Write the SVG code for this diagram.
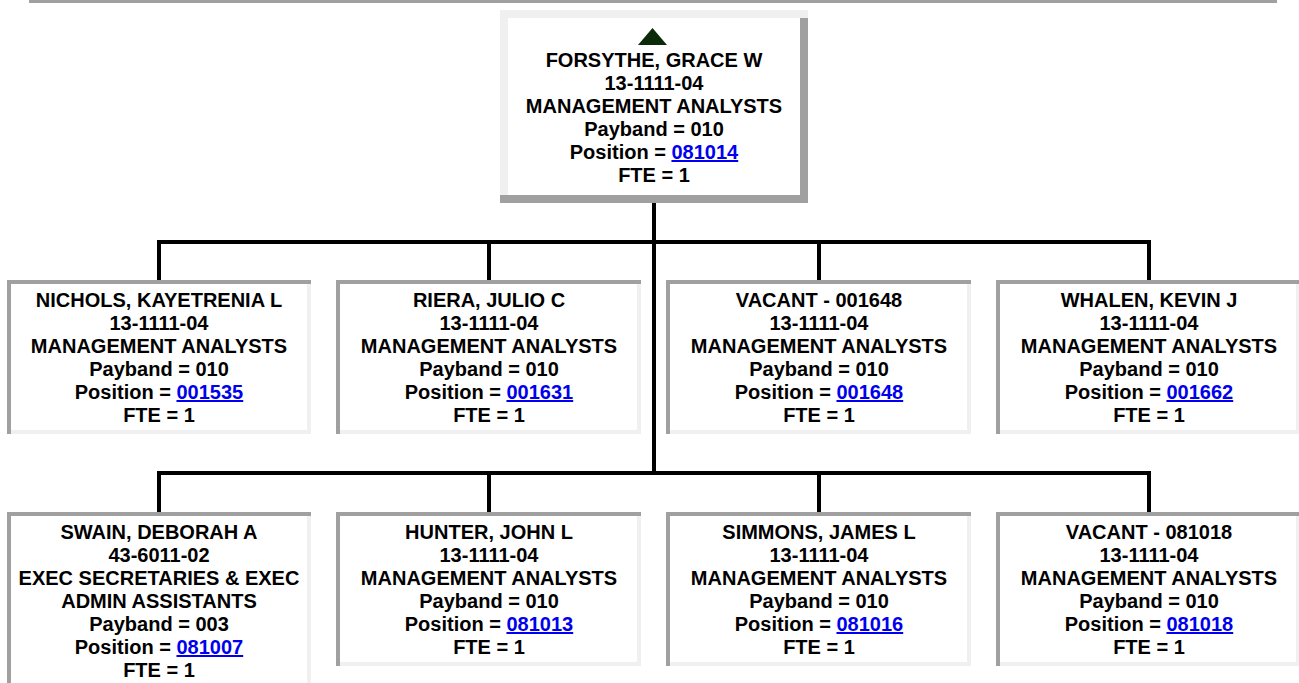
<svg xmlns="http://www.w3.org/2000/svg" width="1299" height="683" viewBox="0 0 1299 683">
<style>
.bg{fill:#ffffff}
.dk{fill:#a0a0a0}
.lt{fill:#f0f0f0}
.t{font-family:"Liberation Sans",Arial,Helvetica,sans-serif;font-weight:bold;font-size:20px;fill:#000;text-anchor:middle}
.lk{fill:#0000ee;text-decoration:underline}
.cn{stroke:#000;stroke-width:4;fill:none}
</style>
<rect x="0" y="0" width="1299" height="683" fill="#ffffff"/>
<rect x="29" y="0" width="1248" height="3" fill="#a0a0a0"/>
<g id="connectors">
<path class="cn" d="M654 203V473M157 242H1151M159 242V280M489 242V280M819 242V280M1149 242V280M157 473H1151M159 473V512M489 473V512M819 473V512M1149 473V512"/>
</g>
<g id="node-forsythe">
<rect class="bg" x="500" y="10" width="308" height="193"/>
<rect class="lt" x="500" y="10" width="308" height="8"/>
<rect class="lt" x="500" y="10" width="8" height="185"/>
<rect class="dk" x="800" y="18" width="8" height="185"/>
<rect class="dk" x="500" y="195" width="308" height="8"/>
<polygon points="638,45 667,45 652.5,28" fill="#0a2a0a"/>
<text class="t" x="654" y="67">FORSYTHE, GRACE W</text>
<text class="t" x="654" y="90">13-1111-04</text>
<text class="t" x="654" y="113">MANAGEMENT ANALYSTS</text>
<text class="t" x="654" y="136">Payband = 010</text>
<text class="t" x="654" y="159">Position = <tspan class="lk">081014</tspan></text>
<text class="t" x="654" y="182">FTE = 1</text>
</g>
<g id="node-nichols">
<rect class="bg" x="7" y="280" width="304" height="154"/>
<rect class="dk" x="7" y="280" width="304" height="4"/>
<rect class="dk" x="7" y="280" width="4" height="154"/>
<rect class="lt" x="307" y="284" width="4" height="150"/>
<rect class="lt" x="11" y="430" width="300" height="4"/>
<text class="t" x="159" y="307">NICHOLS, KAYETRENIA L</text>
<text class="t" x="159" y="330">13-1111-04</text>
<text class="t" x="159" y="353">MANAGEMENT ANALYSTS</text>
<text class="t" x="159" y="376">Payband = 010</text>
<text class="t" x="159" y="399">Position = <tspan class="lk">001535</tspan></text>
<text class="t" x="159" y="422">FTE = 1</text>
</g>
<g id="node-riera">
<rect class="bg" x="336" y="280" width="305" height="154"/>
<rect class="dk" x="336" y="280" width="305" height="4"/>
<rect class="dk" x="336" y="280" width="4" height="154"/>
<rect class="lt" x="637" y="284" width="4" height="150"/>
<rect class="lt" x="340" y="430" width="301" height="4"/>
<text class="t" x="489" y="307">RIERA, JULIO C</text>
<text class="t" x="489" y="330">13-1111-04</text>
<text class="t" x="489" y="353">MANAGEMENT ANALYSTS</text>
<text class="t" x="489" y="376">Payband = 010</text>
<text class="t" x="489" y="399">Position = <tspan class="lk">001631</tspan></text>
<text class="t" x="489" y="422">FTE = 1</text>
</g>
<g id="node-vacant-001648">
<rect class="bg" x="666" y="280" width="305" height="154"/>
<rect class="dk" x="666" y="280" width="305" height="4"/>
<rect class="dk" x="666" y="280" width="4" height="154"/>
<rect class="lt" x="967" y="284" width="4" height="150"/>
<rect class="lt" x="670" y="430" width="301" height="4"/>
<text class="t" x="819" y="307">VACANT - 001648</text>
<text class="t" x="819" y="330">13-1111-04</text>
<text class="t" x="819" y="353">MANAGEMENT ANALYSTS</text>
<text class="t" x="819" y="376">Payband = 010</text>
<text class="t" x="819" y="399">Position = <tspan class="lk">001648</tspan></text>
<text class="t" x="819" y="422">FTE = 1</text>
</g>
<g id="node-whalen">
<rect class="bg" x="996" y="280" width="304" height="154"/>
<rect class="dk" x="996" y="280" width="304" height="4"/>
<rect class="dk" x="996" y="280" width="4" height="154"/>
<rect class="lt" x="1296" y="284" width="4" height="150"/>
<rect class="lt" x="1000" y="430" width="300" height="4"/>
<text class="t" x="1149" y="307">WHALEN, KEVIN J</text>
<text class="t" x="1149" y="330">13-1111-04</text>
<text class="t" x="1149" y="353">MANAGEMENT ANALYSTS</text>
<text class="t" x="1149" y="376">Payband = 010</text>
<text class="t" x="1149" y="399">Position = <tspan class="lk">001662</tspan></text>
<text class="t" x="1149" y="422">FTE = 1</text>
</g>
<g id="node-swain">
<rect class="bg" x="7" y="512" width="304" height="177"/>
<rect class="dk" x="7" y="512" width="304" height="4"/>
<rect class="dk" x="7" y="512" width="4" height="177"/>
<rect class="lt" x="307" y="516" width="4" height="173"/>
<text class="t" x="159" y="539">SWAIN, DEBORAH A</text>
<text class="t" x="159" y="562">43-6011-02</text>
<text class="t" x="159" y="585">EXEC SECRETARIES &amp; EXEC</text>
<text class="t" x="159" y="608">ADMIN ASSISTANTS</text>
<text class="t" x="159" y="631">Payband = 003</text>
<text class="t" x="159" y="654">Position = <tspan class="lk">081007</tspan></text>
<text class="t" x="159" y="677">FTE = 1</text>
</g>
<g id="node-hunter">
<rect class="bg" x="336" y="512" width="305" height="154"/>
<rect class="dk" x="336" y="512" width="305" height="4"/>
<rect class="dk" x="336" y="512" width="4" height="154"/>
<rect class="lt" x="637" y="516" width="4" height="150"/>
<rect class="lt" x="340" y="662" width="301" height="4"/>
<text class="t" x="489" y="539">HUNTER, JOHN L</text>
<text class="t" x="489" y="562">13-1111-04</text>
<text class="t" x="489" y="585">MANAGEMENT ANALYSTS</text>
<text class="t" x="489" y="608">Payband = 010</text>
<text class="t" x="489" y="631">Position = <tspan class="lk">081013</tspan></text>
<text class="t" x="489" y="654">FTE = 1</text>
</g>
<g id="node-simmons">
<rect class="bg" x="666" y="512" width="305" height="154"/>
<rect class="dk" x="666" y="512" width="305" height="4"/>
<rect class="dk" x="666" y="512" width="4" height="154"/>
<rect class="lt" x="967" y="516" width="4" height="150"/>
<rect class="lt" x="670" y="662" width="301" height="4"/>
<text class="t" x="819" y="539">SIMMONS, JAMES L</text>
<text class="t" x="819" y="562">13-1111-04</text>
<text class="t" x="819" y="585">MANAGEMENT ANALYSTS</text>
<text class="t" x="819" y="608">Payband = 010</text>
<text class="t" x="819" y="631">Position = <tspan class="lk">081016</tspan></text>
<text class="t" x="819" y="654">FTE = 1</text>
</g>
<g id="node-vacant-081018">
<rect class="bg" x="996" y="512" width="304" height="154"/>
<rect class="dk" x="996" y="512" width="304" height="4"/>
<rect class="dk" x="996" y="512" width="4" height="154"/>
<rect class="lt" x="1296" y="516" width="4" height="150"/>
<rect class="lt" x="1000" y="662" width="300" height="4"/>
<text class="t" x="1149" y="539">VACANT - 081018</text>
<text class="t" x="1149" y="562">13-1111-04</text>
<text class="t" x="1149" y="585">MANAGEMENT ANALYSTS</text>
<text class="t" x="1149" y="608">Payband = 010</text>
<text class="t" x="1149" y="631">Position = <tspan class="lk">081018</tspan></text>
<text class="t" x="1149" y="654">FTE = 1</text>
</g>
</svg>
